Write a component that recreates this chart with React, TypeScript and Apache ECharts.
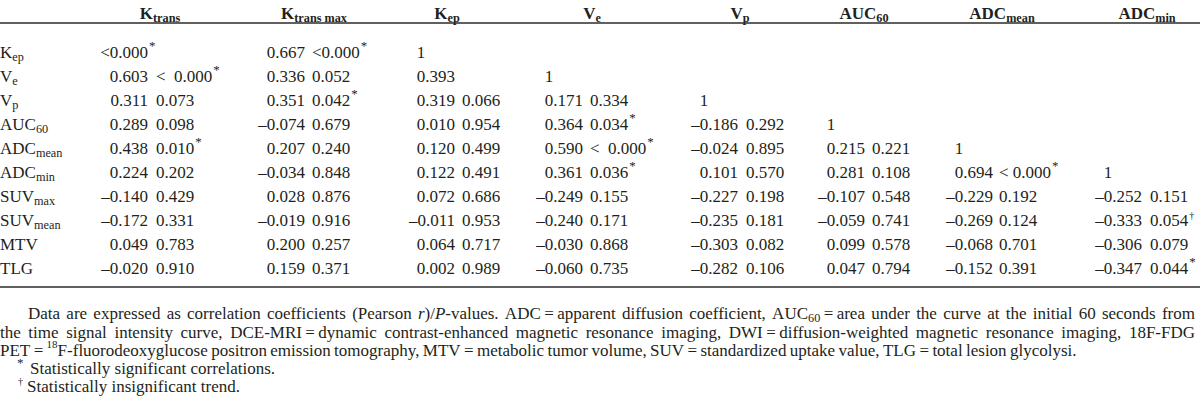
import React, { useEffect, useRef } from 'react';
import * as echarts from 'echarts';

const FONT = '"Liberation Serif", "Times New Roman", Times, serif';
const INK = '#231f20';
const W = 1200;
const H = 411;

// ---- data ----
const ROW_LABELS = ['K_{ep}', 'V_{e}', 'V_{p}', 'AUC_{60}', 'ADC_{mean}', 'ADC_{min}', 'SUV_{max}', 'SUV_{mean}', 'MTV', 'TLG'];
const COLUMN_HEADERS = ['K_{trans}', 'K_{trans max}', 'K_{ep}', 'V_{e}', 'V_{p}', 'AUC_{60}', 'ADC_{mean}', 'ADC_{min}'];

type Cell = [string, string, string]; // r, P, mark
const E: Cell = ['', '', ''];

const KTRANS: Cell[] = [['<0.000', '', '*'], ['0.603', '<\u20020.000', '*'], ['0.311', '0.073', ''], ['0.289', '0.098', ''], ['0.438', '0.010', '*'], ['0.224', '0.202', ''], ['–0.140', '0.429', ''], ['–0.172', '0.331', ''], ['0.049', '0.783', ''], ['–0.020', '0.910', '']];
const KTRANS_MAX: Cell[] = [['0.667', '<0.000', '*'], ['0.336', '0.052', ''], ['0.351', '0.042', '*'], ['–0.074', '0.679', ''], ['0.207', '0.240', ''], ['–0.034', '0.848', ''], ['0.028', '0.876', ''], ['–0.019', '0.916', ''], ['0.200', '0.257', ''], ['0.159', '0.371', '']];
const KEP: Cell[] = [['1', '', ''], ['0.393', '', ''], ['0.319', '0.066', ''], ['0.010', '0.954', ''], ['0.120', '0.499', ''], ['0.122', '0.491', ''], ['0.072', '0.686', ''], ['–0.011', '0.953', ''], ['0.064', '0.717', ''], ['0.002', '0.989', '']];
const VE: Cell[] = [E, ['1', '', ''], ['0.171', '0.334', ''], ['0.364', '0.034', '*'], ['0.590', '<\u20020.000', '*'], ['0.361', '0.036', '*'], ['–0.249', '0.155', ''], ['–0.240', '0.171', ''], ['–0.030', '0.868', ''], ['–0.060', '0.735', '']];
const VP: Cell[] = [E, E, ['1', '', ''], ['–0.186', '0.292', ''], ['–0.024', '0.895', ''], ['0.101', '0.570', ''], ['–0.227', '0.198', ''], ['–0.235', '0.181', ''], ['–0.303', '0.082', ''], ['–0.282', '0.106', '']];
const AUC60: Cell[] = [E, E, E, ['1', '', ''], ['0.215', '0.221', ''], ['0.281', '0.108', ''], ['–0.107', '0.548', ''], ['–0.059', '0.741', ''], ['0.099', '0.578', ''], ['0.047', '0.794', '']];
const ADC_MEAN: Cell[] = [E, E, E, E, ['1', '', ''], ['0.694', '< 0.000', '*'], ['–0.229', '0.192', ''], ['–0.269', '0.124', ''], ['–0.068', '0.701', ''], ['–0.152', '0.391', '']];
const ADC_MIN: Cell[] = [E, E, E, E, E, ['1', '', ''], ['–0.252', '0.151', ''], ['–0.333', '0.054', '†'], ['–0.306', '0.079', ''], ['–0.347', '0.044', '*']];
const COLUMNS: Cell[][] = [KTRANS, KTRANS_MAX, KEP, VE, VP, AUC60, ADC_MEAN, ADC_MIN];

const FOOTNOTE_LINES = [
  'Data are expressed as correlation coefficients (Pearson ~{r})/~{P}-values. ADC = apparent diffusion coefficient, AUC_{60} = area under the curve at the initial 60 seconds from',
  'the time signal intensity curve, DCE-MRI = dynamic contrast-enhanced magnetic resonance imaging, DWI = diffusion-weighted magnetic resonance imaging, 18F-FDG',
  'PET = ^{18}F-fluorodeoxyglucose positron emission tomography, MTV = metabolic tumor volume, SUV = standardized uptake value, TLG = total lesion glycolysi.',
];
const NOTE_SIGNIFICANT = 'Statistically significant correlations.';
const NOTE_TREND = 'Statistically insignificant trend.';

// ---- layout (positions / sizes) ----
const BODY = 17;
const NOTE = 17;
const HEADER_Y = 13;
const HEADER_X = [160, 314, 447, 592, 740, 864, 1002, 1147];
const COL_R = [148, 305, 455, 583, 738, 865, 993, 1142];
const COL_P = [156, 312, 462, 590, 746, 872, 999, 1150];
const RULE_TOP = 23;
const RULE_BOTTOM = 287;
const NOTE_Y = [313, 332, 350, 368, 386];
const NOTE_X0 = [28, 0, 0];
const NOTE_X1 = [1195, 1195, 1068];

// ---- text helpers ----
const ctx = document.createElement('canvas').getContext('2d') as CanvasRenderingContext2D;
function measure(t: string, size: number, bold = false, italic = false) {
  ctx.font = `${italic ? 'italic ' : ''}${bold ? 'bold ' : ''}${size}px ${FONT}`;
  return ctx.measureText(t).width;
}

type Seg = { t: string; size: number; dy: number; bold: boolean; italic: boolean; w: number };

function parse(markup: string, size: number, bold = false): Seg[] {
  const parts = markup.split(/(_\{[^}]*\}|\^\{[^}]*\}|~\{[^}]*\})/).filter((p) => p.length);
  const subSize = size * 0.72;
  return parts.map((p) => {
    let seg: Seg;
    if (p.startsWith('_{')) seg = { t: p.slice(2, -1), size: subSize, dy: size * 0.3, bold, italic: false, w: 0 };
    else if (p.startsWith('^{')) seg = { t: p.slice(2, -1), size: subSize * 0.9, dy: -size * 0.33, bold, italic: false, w: 0 };
    else if (p.startsWith('~{')) seg = { t: p.slice(2, -1), size, dy: 0, bold, italic: true, w: 0 };
    else seg = { t: p, size, dy: 0, bold, italic: false, w: 0 };
    seg.w = measure(seg.t, seg.size, seg.bold, seg.italic);
    return seg;
  });
}

const width = (segs: Seg[]) => segs.reduce((a, s) => a + s.w, 0);

function segEls(segs: Seg[], x: number, y: number, align: 'left' | 'right' | 'center' = 'left'): any[] {
  const total = width(segs);
  let cx = align === 'left' ? x : align === 'right' ? x - total : x - total / 2;
  const els: any[] = [];
  for (const s of segs) {
    els.push({
      type: 'text',
      x: cx,
      y: y + s.dy,
      silent: true,
      style: {
        text: s.t,
        fontSize: s.size,
        fontFamily: FONT,
        fontWeight: s.bold ? 'bold' : 'normal',
        fontStyle: s.italic ? 'italic' : 'normal',
        fill: INK,
        align: 'left',
        verticalAlign: 'middle',
      },
    });
    cx += s.w;
  }
  return els;
}

function markEl(mark: string, x: number, y: number): any {
  const isStar = mark === '*';
  return {
    type: 'text',
    x,
    y: y + (isStar ? -7 : -5),
    silent: true,
    style: {
      text: mark,
      fontSize: isStar ? 13 : 10,
      fontFamily: FONT,
      fill: INK,
      align: 'left',
      verticalAlign: 'middle',
    },
  };
}

function noteLine(markup: string, x0: number, x1: number, y: number, size: number): any[] {
  const words = markup.replace(/ = /g, '\u2009=\u2009').split(' ').map((w) => parse(w, size));
  const widths = words.map(width);
  const total = widths.reduce((a, b) => a + b, 0);
  const gap = Math.max(measure(' ', size) * 0.8, (x1 - x0 - total) / (words.length - 1));
  const els: any[] = [];
  let x = x0;
  words.forEach((w, i) => {
    els.push(...segEls(w, x, y));
    x += widths[i] + gap;
  });
  return els;
}

function cellEls(cell: Cell, c: number, y: number): any[] {
  const [r, p, mark] = cell;
  const els: any[] = [];
  if (!r && !p) return els;
  if (r === '1' && !p) {
    const x = COL_R[c] - measure('0.000', BODY);
    els.push(...segEls(parse(r, BODY), x, y, 'left'));
    return els;
  }
  els.push(...segEls(parse(r, BODY), COL_R[c], y, 'right'));
  let endX = COL_R[c];
  if (p) {
    els.push(...segEls(parse(p, BODY), COL_P[c], y, 'left'));
    endX = COL_P[c] + measure(p, BODY);
  }
  if (mark) els.push(markEl(mark, endX + 1, y));
  return els;
}

export default function App() {
  const ref = useRef<HTMLDivElement>(null);
  useEffect(() => {
    if (!ref.current) return;
    const chart = echarts.init(ref.current, undefined, { renderer: 'svg' });

    const graphics: any[] = [];
    COLUMN_HEADERS.forEach((h, c) => graphics.push(...segEls(parse(h, BODY, true), HEADER_X[c], HEADER_Y, 'center')));
    graphics.push({ type: 'line', silent: true, shape: { x1: 0, y1: RULE_TOP, x2: W, y2: RULE_TOP }, style: { stroke: '#2b2b2b', lineWidth: 1.3 } });
    graphics.push({ type: 'line', silent: true, shape: { x1: 0, y1: RULE_BOTTOM, x2: W, y2: RULE_BOTTOM }, style: { stroke: '#2b2b2b', lineWidth: 1.6 } });
    FOOTNOTE_LINES.forEach((l, i) => graphics.push(...noteLine(l, NOTE_X0[i], NOTE_X1[i], NOTE_Y[i], NOTE)));
    graphics.push(markEl('*', 17, NOTE_Y[3] + 1));
    graphics.push(...segEls(parse(NOTE_SIGNIFICANT, NOTE), 30, NOTE_Y[3]));
    graphics.push(markEl('†', 18, NOTE_Y[4]));
    graphics.push(...segEls(parse(NOTE_TREND, NOTE), 27, NOTE_Y[4]));

    chart.setOption({
      animation: false,
      backgroundColor: '#ffffff',
      grid: { left: 0, right: 0, top: 40, bottom: H - 280 },
      xAxis: { type: 'value', min: 0, max: W, show: false },
      yAxis: {
        type: 'category',
        data: ROW_LABELS,
        inverse: true,
        show: false,
      },
      series: [
        {
          type: 'custom',
          coordinateSystem: 'cartesian2d',
          data: ROW_LABELS.map((_, i) => [0, i]),
          renderItem: (params: any, api: any) => {
            const i = api.value(1) as number;
            const y = api.coord([0, i])[1];
            const children: any[] = [];
            children.push(...segEls(parse(ROW_LABELS[i], BODY), 0, y, 'left'));
            COLUMNS.forEach((col, c) => children.push(...cellEls(col[i], c, y)));
            return { type: 'group', children };
          },
        },
      ],
      graphic: graphics,
    });
    return () => chart.dispose();
  }, []);
  return <div ref={ref} style={{ position: 'absolute', left: 0, top: 0, width: W, height: H, background: '#fff' }} />;
}
